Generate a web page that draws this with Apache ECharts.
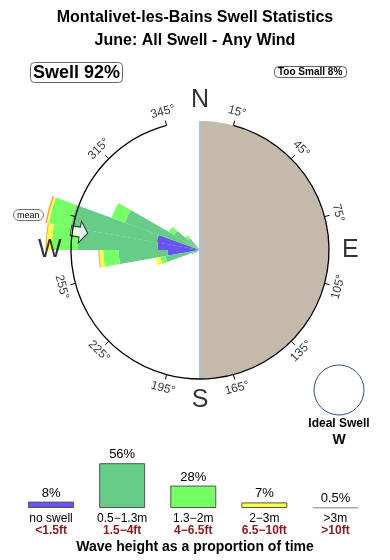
<!DOCTYPE html>
<html><head><meta charset="utf-8">
<script src="https://cdn.jsdelivr.net/npm/echarts@6/dist/echarts.min.js"></script>
<style>html,body{margin:0;padding:0;background:#fff}#c{width:390px;height:560px}</style>
</head><body><div id="c"></div>
<script>
// ---- data ----
// 10-degree direction bins (bearing where each bin starts)
const bins = [0,10,20,30,40,50,60,70,80,90,100,110,120,130,140,150,160,170,
              180,190,200,210,220,230,240,250,260,270,280,290,300,310,320,330,340,350];
// radial length of each stacked band per bin (outer ring = 100)
const noSwell = [0,0,0,0,0,0,0,0,0,0,0,0,0,0,0,0,0,0, 0,0,0,0,0,0, 0, 0,25,33,34, 0, 0, 0,0,0,0,0];
const h05_13  = [0,0,0,0,0,0,0,0,0,0,0,0,0,0,0,0,0,0, 0,0,0,0,0,0, 5,27,38,62,68,62,23,12,0,0,0,0];
const h13_2   = [0,0,0,0,0,0,0,0,0,0,0,0,0,0,0,0,0,0, 0,0,0,0,0,0, 2, 4,12,20,17,11, 5, 3,0,0,0,0];
const h2_3    = [0,0,0,0,0,0,0,0,0,0,0,0,0,0,0,0,0,0, 0,0,0,0,0,0, 0, 4, 3, 4,1.5,0, 0, 0,0,0,0,0];
const h3p     = [0,0,0,0,0,0,0,0,0,0,0,0,0,0,0,0,0,0, 0,0,0,0,0,0, 0, 0,0.8,0.8,1.2,0,0, 0,0,0,0,0];
const tickDegrees = [15,45,75,105,135,165,195,225,255,285,315,345];
const cardinals = [['N',0],['E',90],['S',180],['W',270]];
const meanDirection = 278.5;
const meanRadius = 94.6;
const landHalves = ['east','west'];
const landValues = [100, 0];
const coastBearings = [0, 180];
// summary bars
const heightCats = ['no swell','0.5\u22121.3m','1.3\u22122m','2\u22123m','>3m'];
const feetCats = ['<1.5ft','1.5\u22124ft','4\u22126.5ft','6.5\u221210ft','>10ft'];
const heightPct = [8, 56, 28, 7, 0.5];
const swellPct = 92, tooSmallPct = 8;
const idealDir = 'W';

// ---- styles ----
const FONT = '"Liberation Sans", Arial, Helvetica, sans-serif';
const colors = ['#6655EE','#66CC88','#77FF66','#FFFF44','#F0A060'];
const bandNames = ['no swell','0.5-1.3m','1.3-2m','2-3m','>3m'];
const bandData = [noSwell, h05_13, h13_2, h2_3, h3p];
const CX = 200, CY = 250, R = 129, RMAX = 125, ROUT = R * RMAX / 100;

function labelRot(b){ if (b < 90) return -b; if (b > 270) return 360 - b; return 180 - b; }

const chart = echarts.init(document.getElementById('c'), null, {renderer:'canvas'});
const series = [];
// land
series.push({type:'bar', coordinateSystem:'polar', polarIndex:3, data: landValues,
  barCategoryGap:'0%', itemStyle:{color:'#C5B9AC'}, z:1, silent:true});
// coast line
series.push({type:'line', coordinateSystem:'polar', polarIndex:2,
  data:[[100, coastBearings[0]],[0, coastBearings[0]],[100, coastBearings[1]]],
  symbol:'none', lineStyle:{color:'#A9C4D8', width:2}, z:3, silent:true});
// tick labels
series.push({type:'scatter', coordinateSystem:'polar', polarIndex:2, symbolSize:0, z:1, silent:true,
  data: tickDegrees.map(d => ({value:[110.9, d], label:{rotate: labelRot(d)}})),
  label:{show:true, position:'inside', formatter: p => p.value[1] + '\u00B0',
    fontSize:12, color:'#000', fontFamily:FONT}});
// rose wedges
bandData.forEach((arr, i) => {
  series.push({type:'bar', name: bandNames[i], coordinateSystem:'polar', polarIndex:1, stack:'rose',
    data: arr, barCategoryGap:'0%', itemStyle:{color: colors[i]}, z:2, silent:true});
});
// cardinal letters
series.push({type:'scatter', coordinateSystem:'polar', polarIndex:2, symbolSize:0, z:4, silent:true,
  data: cardinals.map(c => ({value:[116.5, c[1]], name:c[0]})),
  label:{show:true, position:'inside', formatter: p => p.name, fontSize:25, color:'#000', fontFamily:FONT}});
// mean arrow
series.push({type:'scatter', coordinateSystem:'polar', polarIndex:2, z:6, silent:true,
  data:[[meanRadius, meanDirection]],
  symbol:'path://M0,6L9,6L9,0L17,11L9,22L9,16L0,16Z', symbolSize:[17,22],
  symbolRotate: 270 - meanDirection,
  itemStyle:{color:'#fff', borderColor:'#000', borderWidth:1}});
// summary bars
series.push({type:'bar', xAxisIndex:0, yAxisIndex:0, barWidth:46, silent:true,
  data: heightPct.map((v,i) => ({value:v, itemStyle:{color: i===4 ? '#C8AFA5' : colors[i],
     borderColor: i===4 ? '#BBA39A' : '#555', borderWidth: i===4 ? 1.5 : 1}})),
  label:{show:true, position:'top', distance:2, formatter:'{c}%', fontSize:13, color:'#000', fontFamily:FONT}});

const option = {
  animation:false,
  textStyle:{fontFamily:FONT},
  title:[
    {text:'Montalivet-les-Bains Swell Statistics', left:'center', top:10, padding:0,
      textStyle:{fontSize:16, fontWeight:'bold', color:'#000', fontFamily:FONT}},
    {text:'June: All Swell - Any Wind', left:'center', top:33, padding:0,
      textStyle:{fontSize:16, fontWeight:'bold', color:'#000', fontFamily:FONT}},
    {text:'Swell ' + swellPct + '%', left:30, top:62, padding:[2,3,1,3], borderWidth:1, borderColor:'#666', borderRadius:4,
      textStyle:{fontSize:18, fontWeight:'bold', color:'#000', fontFamily:FONT}},
    {text:'Too Small ' + tooSmallPct + '%', left:274, top:66, padding:[1,4,1,4], borderWidth:1, borderColor:'#666', borderRadius:4,
      textStyle:{fontSize:10, fontWeight:'bold', color:'#000', fontFamily:FONT}},
    {text:'mean', left:13, top:209, padding:[2,4,1,4], borderWidth:1, borderColor:'#777', borderRadius:6,
      textStyle:{fontSize:9, fontWeight:'normal', color:'#000', fontFamily:FONT}},
    {text:'Wave height as a proportion of time', left:'center', top:540, padding:0,
      textStyle:{fontSize:14, fontWeight:'bold', color:'#000', fontFamily:FONT}}
  ],
  graphic:[
    {type:'circle', shape:{cx:339, cy:390, r:25}, style:{fill:'#fff', stroke:'#2E5080', lineWidth:1}, silent:true},
    {type:'text', x:339, y:424, style:{text:'Ideal Swell', fill:'#000', font:'bold 12px ' + FONT, textAlign:'center', textVerticalAlign:'middle'}},
    {type:'text', x:339, y:440, style:{text:idealDir, fill:'#000', font:'bold 14px ' + FONT, textAlign:'center', textVerticalAlign:'middle'}}
  ],
  polar:[
    {center:[CX,CY], radius:R},
    {center:[CX,CY], radius:ROUT},
    {center:[CX,CY], radius:ROUT},
    {center:[CX,CY], radius:R}
  ],
  angleAxis:[
    {polarIndex:0, type:'category', data: tickDegrees, boundaryGap:false, startAngle:90 - tickDegrees[0], clockwise:true,
      axisLine:{show:true, lineStyle:{color:'#000', width:1.3}},
      axisTick:{show:true, length:5, lineStyle:{color:'#000', width:1}},
      axisLabel:{show:false}, splitLine:{show:false}, splitArea:{show:false}, z:10},
    {polarIndex:1, type:'category', data: bins, boundaryGap:true, startAngle:90, clockwise:true, show:false},
    {polarIndex:2, type:'value', min:0, max:360, startAngle:90, clockwise:true, show:false},
    {polarIndex:3, type:'category', data: landHalves, boundaryGap:true, startAngle:90, clockwise:true, show:false}
  ],
  radiusAxis:[
    {polarIndex:0, type:'value', min:0, max:100, show:false},
    {polarIndex:1, type:'value', min:0, max:RMAX, show:false},
    {polarIndex:2, type:'value', min:0, max:RMAX, show:false},
    {polarIndex:3, type:'value', min:0, max:100, show:false}
  ],
  grid:[{left:15.5, right:19, top:452, bottom:52}],
  xAxis:[{gridIndex:0, type:'category', data: heightCats,
    axisLine:{show:false}, axisTick:{show:false},
    axisLabel:{interval:0, margin:5,
      formatter:(v,i) => '{a|' + v + '}\n{b|' + feetCats[i] + '}',
      rich:{a:{fontSize:12, color:'#000', lineHeight:12, fontFamily:FONT},
            b:{fontSize:12, color:'#8B1A1A', fontWeight:'bold', lineHeight:12, fontFamily:FONT}}}}],
  yAxis:[{gridIndex:0, type:'value', min:0, max:70, show:false}],
  series: series
};
chart.setOption(option);
</script></body></html>
